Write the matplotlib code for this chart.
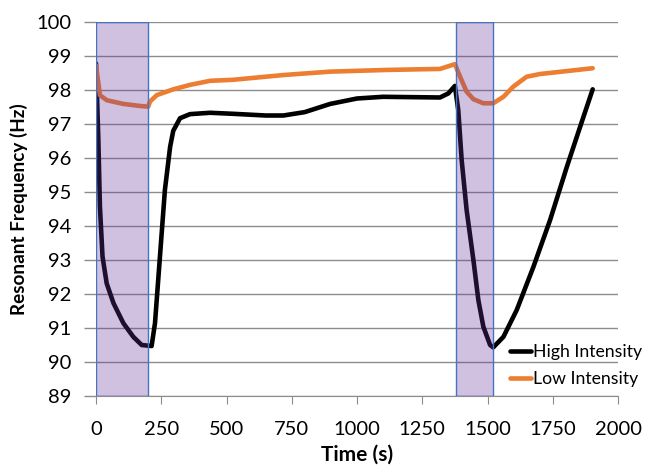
import matplotlib
matplotlib.use("Agg")
import matplotlib.pyplot as plt
from matplotlib.patches import Rectangle

# data
time_high = [0, 9, 15, 25, 41, 67, 105, 143, 175, 213, 226, 245, 264, 284, 296, 322,
             360, 437, 525, 650, 718, 800, 897, 1000, 1100, 1318, 1350, 1375, 1388, 1401,
             1420, 1446, 1465, 1484, 1510, 1522, 1561, 1612, 1676, 1740, 1804, 1855, 1903]
freq_high = [98.78, 96.53, 94.57, 93.1, 92.31, 91.73, 91.14, 90.74, 90.5, 90.47, 91.14,
             93.1, 95.06, 96.33, 96.8, 97.17, 97.29, 97.33, 97.3, 97.25, 97.25, 97.35,
             97.59, 97.75, 97.8, 97.78, 97.9, 98.12, 97.41, 95.94, 94.47, 93.0, 91.82,
             91.04, 90.5, 90.43, 90.74, 91.53, 92.8, 94.18, 95.74, 96.92, 98.02]

time_low = [0, 15, 41, 105, 169, 200, 207, 233, 296, 360, 437, 525, 718, 897, 1114,
            1318, 1375, 1395, 1420, 1446, 1484, 1522, 1561, 1599, 1650, 1701, 1903]
freq_low = [98.73, 97.85, 97.7, 97.59, 97.53, 97.51, 97.66, 97.85, 98.02, 98.15, 98.27,
            98.3, 98.44, 98.54, 98.59, 98.62, 98.76, 98.39, 97.95, 97.73, 97.61, 97.61,
            97.8, 98.1, 98.39, 98.47, 98.64]

# shaded periods (start, end)
periods = [(0, 200), (1380, 1520)]

x_ticks = [0, 250, 500, 750, 1000, 1250, 1500, 1750, 2000]
y_ticks = list(range(89, 101))

plt.rcParams["font.family"] = ["Lato", "DejaVu Sans"]

fig = plt.figure(figsize=(6.46, 4.71), dpi=100)
ax = fig.add_axes([96 / 646, 1 - 396 / 471, (618 - 96) / 646, (396 - 22) / 471])

ax.plot(time_high, freq_high, color="black", lw=3.3, solid_joinstyle="round",
        solid_capstyle="round", label="High Intensity", zorder=3)
ax.plot(time_low, freq_low, color="#ED7D31", lw=3.3, solid_joinstyle="round",
        solid_capstyle="round", label="Low Intensity", zorder=3)

for start, end in periods:
    ax.add_patch(Rectangle((start, 89), end - start, 11, facecolor="#673399", alpha=0.3,
                           edgecolor="none", zorder=4))
    ax.add_patch(Rectangle((start, 89), end - start, 11, facecolor="none",
                           edgecolor="#4472C4", lw=1.0, zorder=5))

ax.set_xlim(0, 2000)
ax.set_ylim(89, 100)
ax.set_xticks(x_ticks)
ax.set_yticks(y_ticks)
ax.grid(axis="y", color="#8C8C8C", lw=1.0, zorder=1)
ax.set_axisbelow(True)
for side in ["left", "right", "top"]:
    ax.spines[side].set_visible(False)
ax.spines["bottom"].set_color("#8C8C8C")
ax.tick_params(axis="x", direction="out", length=6, color="#8C8C8C", labelsize=14.5, pad=12)
ax.tick_params(axis="y", direction="out", length=9, width=1.0, color="#8C8C8C",
               labelsize=14.5, pad=8.5)

ax.set_xlabel("Time (s)", fontsize=15, fontweight="bold", labelpad=5)
ax.set_ylabel("Resonant Frequency (Hz)", fontsize=13.6, fontweight="bold", labelpad=6)

leg = ax.legend(loc="lower left", bbox_to_anchor=(503 / 646, 1 - 394 / 471),
                bbox_transform=fig.transFigure, frameon=False, fontsize=12.7,
                handlelength=1.2, handletextpad=0.1, labelspacing=0.6, borderaxespad=0)

fig.savefig("out.png", dpi=100)
